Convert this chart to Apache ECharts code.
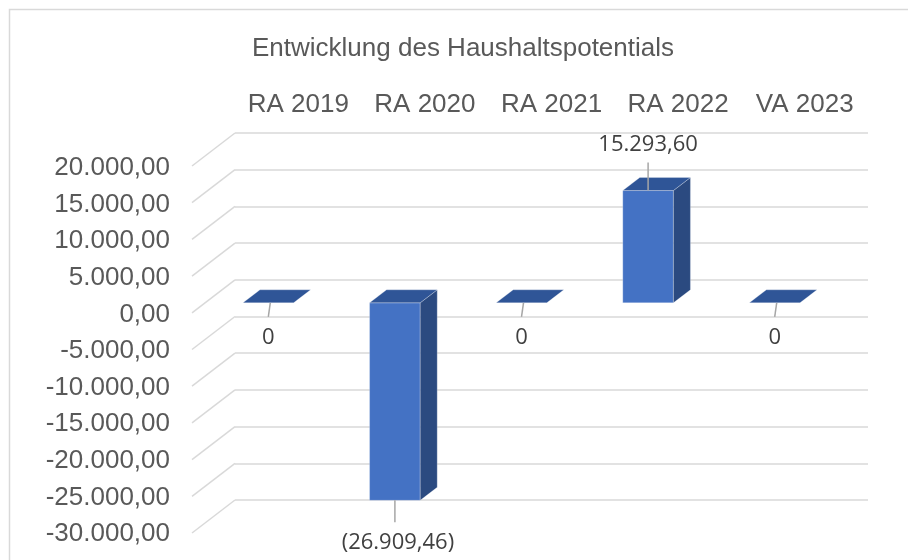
<!DOCTYPE html>
<html style="height: 100%">
    <head>
        <meta charset="utf-8">
        <title>Entwicklung des Haushaltspotentials</title>
        <script type="text/javascript" src="https://cdn.jsdelivr.net/npm/echarts@6/dist/echarts.min.js"></script>
    </head>
    <body style="height: 100%; margin: 0; background: #fff">
        <div id="container" style="width: 908px; height: 560px"></div>
        <script type="text/javascript">

        var categories = ['RA 2019', 'RA 2020', 'RA 2021', 'RA 2022', 'VA 2023'];
        var values = [0, -26909.46, 0, 15293.60, 0];
        var yTicks = [20000, 15000, 10000, 5000, 0, -5000, -10000, -15000, -20000, -25000, -30000];

        var dom = document.getElementById("container");
        var myChart = echarts.init(dom);

        // 3D-Versatz (Excel-Perspektive)
        var wallDx = -43, wallDy = 33;   // Rueckwand -> Vorderkante
        var barDx = -30, barDy = 23;     // Rueckwand -> Balkenfront
        var depthDx = 17, depthDy = -13; // Balkentiefe

        function de(v) {
            var s = Math.abs(v).toFixed(2).split('.');
            var ganz = s[0].replace(/\B(?=(\d{3})+(?!\d))/g, '.');
            return (v < 0 ? '-' : '') + ganz + ',' + s[1];
        }
        function dataLabel(v) {
            if (v === 0) return '0';
            if (v < 0) return '(' + de(-v) + ')';
            return de(v);
        }

        var lblStyle = { fill: '#404040', fontFamily: 'Open Sans', fontSize: 22, align: 'center', verticalAlign: 'middle' };

        function renderBar(params, api) {
            var i = api.value(0), v = api.value(1);
            var p = api.coord([i, v]), z = api.coord([i, 0]);
            var bw = api.size([1, 0])[0] * 0.4;
            var cx = p[0] + barDx;
            var x0 = cx - bw / 2, x1 = cx + bw / 2;
            var yTop = Math.min(p[1], z[1]) + barDy;
            var yBot = Math.max(p[1], z[1]) + barDy;
            var children = [];
            if (yBot > yTop) {
                children.push({ type: 'rect', shape: { x: x0, y: yTop, width: bw, height: yBot - yTop },
                    style: { fill: '#4472c4', stroke: 'rgba(255,255,255,0.25)', lineWidth: 1 } });
                children.push({ type: 'polygon', shape: { points: [[x1, yTop], [x1 + depthDx, yTop + depthDy], [x1 + depthDx, yBot + depthDy], [x1, yBot]] },
                    style: { fill: '#2b4a80', stroke: 'rgba(255,255,255,0.25)', lineWidth: 1 } });
            }
            children.push({ type: 'polygon', shape: { points: [[x0, yTop], [x1, yTop], [x1 + depthDx, yTop + depthDy], [x0 + depthDx, yTop + depthDy]] },
                style: { fill: '#2f5597', stroke: 'rgba(255,255,255,0.25)', lineWidth: 1 } });

            var l0, l1, ty;
            if (v > 0) { l0 = [cx, yTop]; l1 = [cx, yTop - 28]; ty = yTop - 46; }
            else if (v < 0) { l0 = [cx, yBot]; l1 = [cx, yBot + 22]; ty = yBot + 42; }
            else { l0 = [cx + 2, yBot]; l1 = [cx, yBot + 14]; ty = yBot + 35; }
            children.push({ type: 'line', shape: { x1: l0[0], y1: l0[1], x2: l1[0], y2: l1[1] },
                style: { stroke: '#a6a6a6', lineWidth: 1.5 } });
            children.push({ type: 'text', x: cx + (v < 0 ? 3 : 0), y: ty,
                style: Object.assign({ text: dataLabel(v) }, lblStyle) });
            return { type: 'group', children: children };
        }

        function renderWall(params, api) {
            var y = api.coord([0, api.value(1)])[1];
            var x = params.coordSys.x;
            return { type: 'line', shape: { x1: x, y1: y, x2: x + wallDx, y2: y + wallDy },
                style: { stroke: '#d9d9d9', lineWidth: 1.5 } };
        }

        var option = {
            animation: false,
            backgroundColor: '#ffffff',
            title: {
                text: 'Entwicklung des Haushaltspotentials',
                left: 247, top: 31,
                textStyle: { fontFamily: 'Liberation Sans', fontSize: 26, fontWeight: 'normal', color: '#595959' }
            },
            graphic: [{
                type: 'rect', silent: true,
                shape: { x: 9.5, y: 9.5, width: 2000, height: 2000 },
                style: { fill: null, stroke: '#d9d9d9', lineWidth: 1.5 }
            }],
            grid: [
                { left: 235, right: 40, top: 133, bottom: 60 },
                { left: 192, right: 83, top: 168, bottom: 26 }
            ],
            xAxis: [{
                gridIndex: 0, type: 'category', data: categories, position: 'top',
                axisLine: { show: false }, axisTick: { show: false },
                axisLabel: { margin: 15, fontFamily: 'Liberation Sans', fontSize: 26, color: '#595959', interval: 0 }
            }, {
                gridIndex: 1, type: 'category', data: categories, show: false
            }],
            yAxis: [{
                gridIndex: 0, type: 'value', min: -30000, max: 20000, interval: 5000,
                axisLabel: { show: false }, axisLine: { show: false }, axisTick: { show: false },
                splitLine: { lineStyle: { color: '#d9d9d9', width: 1.5 } }
            }, {
                gridIndex: 1, type: 'value', min: -30000, max: 20000, interval: 5000,
                axisLine: { show: false }, axisTick: { show: false }, splitLine: { show: false },
                axisLabel: { margin: 22, fontFamily: 'Liberation Sans', fontSize: 26, color: '#595959', formatter: de }
            }],
            series: [{
                type: 'custom', xAxisIndex: 0, yAxisIndex: 0, silent: true,
                renderItem: renderWall,
                data: yTicks.map(function (t) { return [0, t]; }),
                z: 1
            }, {
                type: 'custom', xAxisIndex: 0, yAxisIndex: 0, clip: false,
                renderItem: renderBar,
                data: values.map(function (v, i) { return [i, v]; }),
                z: 2
            }]
        };
        myChart.setOption(option);
        </script>
    </body>
</html>
